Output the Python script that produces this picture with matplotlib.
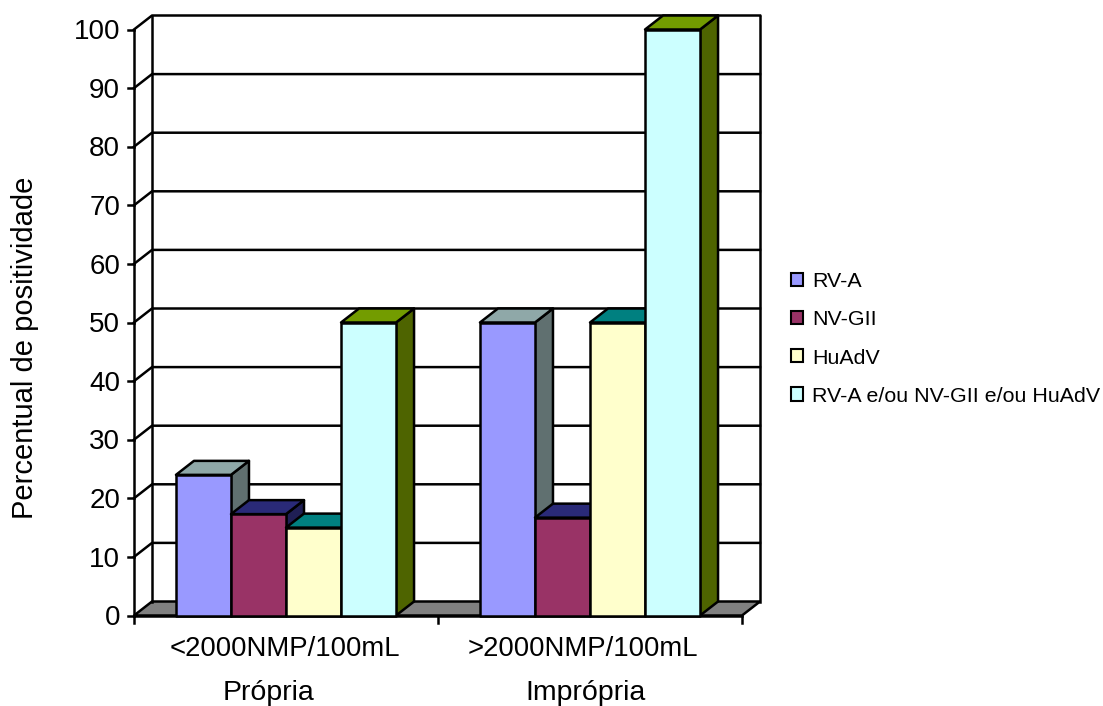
import matplotlib
matplotlib.use('Agg')
import matplotlib.pyplot as plt
from matplotlib.patches import Polygon, Patch

plt.rcParams['font.family'] = ['Liberation Sans', 'DejaVu Sans']

# ── Data ──────────────────────────────────────────────────
groups = ['<2000NMP/100mL', '>2000NMP/100mL']
group_names = ['Própria', 'Imprópria']
series = ['RV-A', 'NV-GII', 'HuAdV', 'RV-A e/ou NV-GII e/ou HuAdV']
rv_a = [24, 50]
nv_gii = [17.3, 16.7]
huadv = [15, 50]
any_virus = [50, 100]
y_ticks = list(range(0, 101, 10))

front_colors = ['#9999FF', '#993366', '#FFFFCC', '#CCFFFF']
top_colors = ['#8FA8A8', '#2A2A78', '#008080', '#739C00']
side_colors = ['#607070', '#1F1F55', '#005050', '#4E6400']

# ── Layout (pixels of the 1103x706 picture) ───────────────
W, H = 1103, 706
x0, x1, y0, y100 = 134, 742, 615.5, 29.5

fig = plt.figure(figsize=(W / 100, H / 100), dpi=100)
ax = fig.add_axes([x0 / W, 1 - y0 / H, (x1 - x0) / W, (y0 - y100) / H])
ax.set_xlim(0, 2)
ax.set_ylim(0, 100)
ax.axis('off')

# depth of the fake 3D box, in data units
dx = 18 / ((x1 - x0) / 2)
dy = 14 / ((y0 - y100) / 100)
bar_w = 0.181
LW = 1.8


def line(xs, ys, color='black', lw=LW, z=1):
    ax.plot(xs, ys, color=color, lw=lw, clip_on=False, zorder=z,
            solid_capstyle='projecting')


# ── Walls ─────────────────────────────────────────────────
ax.add_patch(Polygon([(0, 0), (dx, dy), (2 + dx, dy), (2, 0)], closed=True,
                     facecolor='#808080', edgecolor='black', lw=LW,
                     clip_on=False, zorder=1))
for v in y_ticks:
    if v > 0:
        line([0, dx, 2 + dx], [v, v + dy, v + dy])
    line([-0.019, 0], [v, v])
line([0, 0], [0, 100])
line([dx, dx], [dy, 100 + dy])
line([2 + dx, 2 + dx], [dy, 100 + dy])
line([0, 2], [0, 0])
for x in [0, 1, 2]:
    line([x, x], [0, -1.2])

# ── Bars ──────────────────────────────────────────────────
values = [rv_a, nv_gii, huadv, any_virus]
z = 2
for g in range(len(groups)):
    for s in range(len(series)):
        left = g + 0.5 + (s - 2) * bar_w
        right = left + bar_w
        v = values[s][g]
        ax.add_patch(Polygon([(right, 0), (right + dx, dy), (right + dx, v + dy), (right, v)],
                             closed=True, facecolor=side_colors[s], edgecolor='black',
                             lw=LW, clip_on=False, zorder=z, joinstyle='round'))
        ax.add_patch(Polygon([(left, v), (left + dx, v + dy), (right + dx, v + dy), (right, v)],
                             closed=True, facecolor=top_colors[s], edgecolor='black',
                             lw=LW, clip_on=False, zorder=z, joinstyle='round'))
        ax.add_patch(Polygon([(left, 0), (left, v), (right, v), (right, 0)],
                             closed=True, facecolor=front_colors[s], edgecolor='black',
                             lw=LW, clip_on=False, zorder=z, joinstyle='round'))
        z += 1

# ── Text ──────────────────────────────────────────────────
for v in y_ticks:
    ax.text(-0.046, v - 0.45, str(v), ha='right', va='center', fontsize=20, clip_on=False)

for x, name in zip([0.497, 1.477], groups):
    ax.text(x, -5.7, name, ha='center', va='center', fontsize=19.8, clip_on=False)
for x, name in zip([0.444, 1.484], group_names):
    ax.text(x, -13.2, name, ha='center', va='center', fontsize=20.5, clip_on=False)

fig.text(25.5 / W, 1 - 348 / H, 'Percentual de positividade', rotation=90,
         ha='center', va='center', fontsize=21)

handles = [Patch(facecolor=c, edgecolor='black', lw=1.5) for c in front_colors]
fig.legend(handles, series, loc='center left', bbox_to_anchor=(791 / W, 1 - 339 / H),
           frameon=False, fontsize=15.4, handlelength=0.56, handleheight=0.56,
           handletextpad=0.42, labelspacing=0.89, borderpad=0, borderaxespad=0)

fig.savefig('out.png', dpi=100)
